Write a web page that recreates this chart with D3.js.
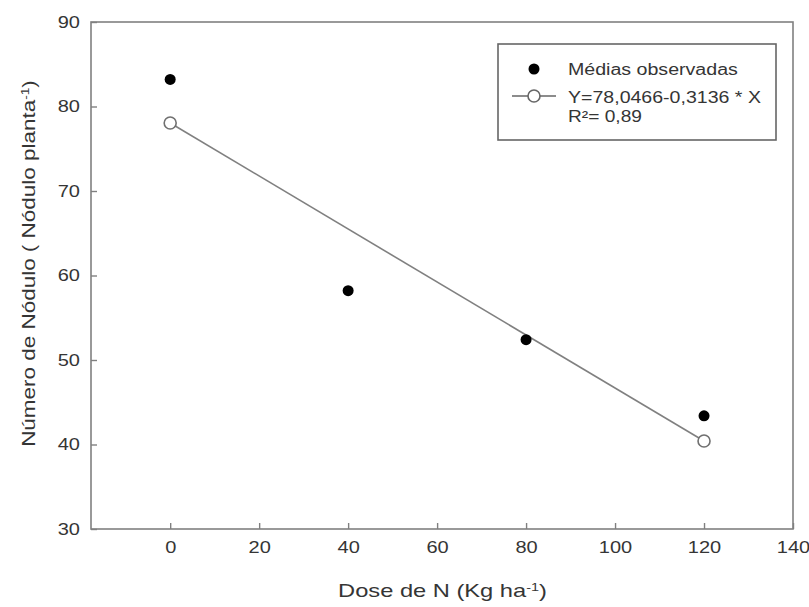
<!DOCTYPE html>
<html><head><meta charset="utf-8">
<script src="https://cdn.jsdelivr.net/npm/d3@7"></script>
<style>body{margin:0;background:#fff}svg{display:block}text{font-family:"Liberation Sans",Arial,sans-serif}</style>
</head><body>
<script>
const doses = [0, 40, 80, 120];
const observed = [83.2, 58.2, 52.4, 43.4];
const fitX = [0, 120];
const intercept = 78.0466, slope = -0.3136;
const fitted = fitX.map(x => intercept + slope * x);
const xTicks = [0, 20, 40, 60, 80, 100, 120, 140];
const yTicks = [30, 40, 50, 60, 70, 80, 90];
const legendLabels = ["Médias observadas", "Y=78,0466-0,3136 * X", "R²= 0,89"];

const W = 809, H = 607;
const m = {l: 91, r: 16, t: 22, b: 78};
const svg = d3.select("body").append("svg").attr("width", W).attr("height", H);
const x = d3.scaleLinear().domain([-17.8, 140]).range([m.l, W - m.r]);
const y = d3.scaleLinear().domain([30, 90]).range([H - m.b, m.t]);
const axCol = "#808080", txtCol = "#353535";
const stretch = 1.25;

svg.append("rect").attr("x", m.l).attr("y", m.t).attr("width", W - m.r - m.l).attr("height", H - m.b - m.t)
  .attr("fill", "none").attr("stroke", axCol).attr("stroke-width", 1.6);

const gx = svg.append("g").attr("transform", `translate(0,${H - m.b})`)
  .call(d3.axisBottom(x).tickValues(xTicks).tickSize(-6).tickPadding(13));
const gy = svg.append("g").attr("transform", `translate(${m.l},0)`)
  .call(d3.axisLeft(y).tickValues(yTicks).tickSize(-6).tickPadding(11));
[gx, gy].forEach(g => {
  g.select(".domain").remove();
  g.selectAll(".tick line").attr("stroke", axCol).attr("stroke-width", 1.4);
  g.selectAll(".tick text").attr("fill", txtCol).style("font-size", "16px").style("font-family", '"Liberation Sans",Arial,sans-serif');
});
gx.selectAll(".tick text").attr("transform", `scale(${stretch},1)`);
gy.selectAll(".tick text").each(function() {
  const tx = +d3.select(this).attr("x");
  d3.select(this).attr("x", 0).attr("transform", `translate(${tx},0) scale(${stretch},1)`);
});

// fitted line
svg.append("line").attr("x1", x(fitX[0])).attr("y1", y(fitted[0])).attr("x2", x(fitX[1])).attr("y2", y(fitted[1]))
  .attr("stroke", "#808080").attr("stroke-width", 1.6);
svg.selectAll(".fit").data(fitX).enter().append("circle")
  .attr("cx", d => x(d)).attr("cy", (d, i) => y(fitted[i])).attr("r", 6)
  .attr("fill", "#fff").attr("stroke", "#707070").attr("stroke-width", 1.6);
svg.selectAll(".obs").data(doses).enter().append("circle")
  .attr("cx", d => x(d)).attr("cy", (d, i) => y(observed[i])).attr("r", 5.5).attr("fill", "#000");

// legend
const lg = svg.append("g");
lg.append("rect").attr("x", 498).attr("y", 44).attr("width", 278).attr("height", 96)
  .attr("fill", "#fff").attr("stroke", "#666").attr("stroke-width", 1.6);
lg.append("circle").attr("cx", 534).attr("cy", 69).attr("r", 5.5).attr("fill", "#000");
lg.append("line").attr("x1", 512).attr("x2", 556).attr("y1", 96).attr("y2", 96).attr("stroke", "#666").attr("stroke-width", 1.6);
lg.append("circle").attr("cx", 534).attr("cy", 96).attr("r", 6).attr("fill", "#fff").attr("stroke", "#666").attr("stroke-width", 1.6);
const legLens = [170, 193, 74];
[75, 102.5, 121.5].forEach((yy, i) => {
  const t = lg.append("text").attr("x", 0).attr("y", 0).attr("fill", txtCol)
    .style("font-size", "16px").text(legendLabels[i]);
  const s = legLens[i] / t.node().getComputedTextLength();
  t.attr("transform", `translate(568,${yy}) scale(${s},1)`);
});

function fitWidth(t, target, pre) {
  const bb = t.node().getBBox();
  t.attr("transform", `${pre} scale(${target / bb.width},1)`);
}
// axis titles
const xt = svg.append("text").attr("text-anchor", "middle").attr("fill", txtCol).style("font-size", "18px");
xt.append("tspan").text("Dose de N (Kg ha");
xt.append("tspan").attr("baseline-shift", "super").style("font-size", "11px").text("-1");
xt.append("tspan").text(")");
fitWidth(xt, 209, "translate(442.5,597)");

const yt = svg.append("text").attr("text-anchor", "middle").attr("fill", txtCol).style("font-size", "18px");
yt.append("tspan").text("Número de Nódulo ( Nódulo planta");
yt.append("tspan").attr("baseline-shift", "super").style("font-size", "11px").text("-1");
yt.append("tspan").text(")");
fitWidth(yt, 367, "translate(35,263.5) rotate(-90)");
</script>
</body></html>
